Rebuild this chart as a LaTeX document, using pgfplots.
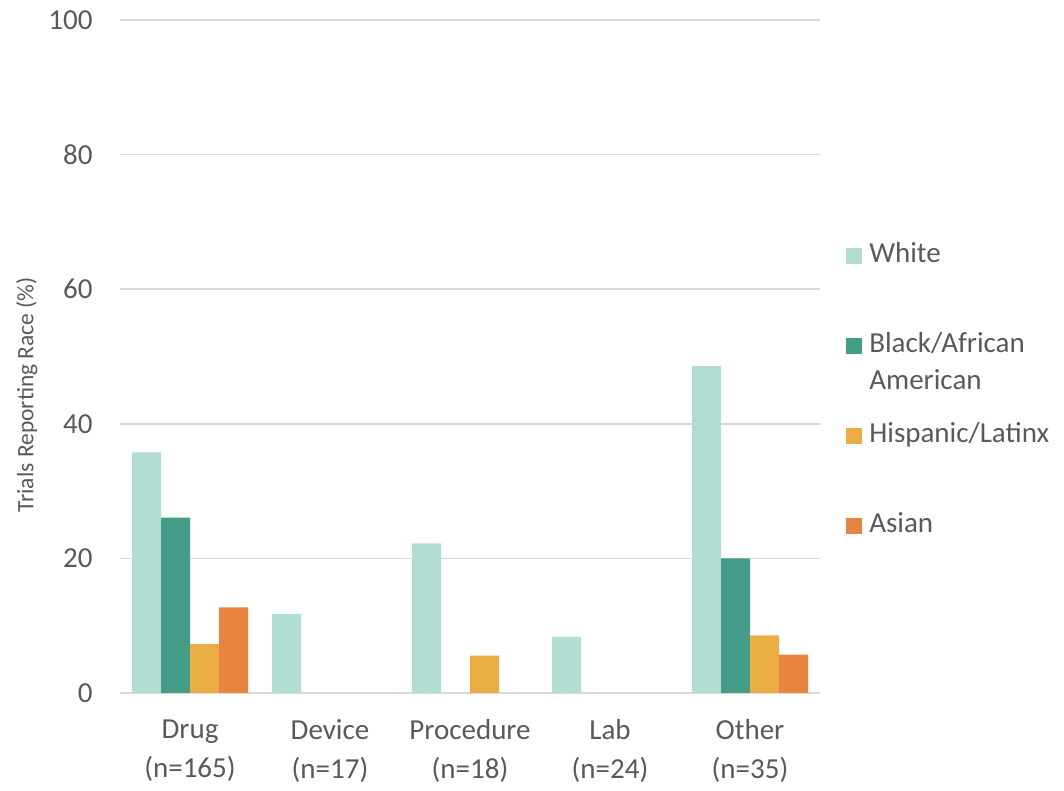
\documentclass[border=0pt]{standalone}
\usepackage{fontspec}
\setmainfont{Carlito}
\usepackage{pgfplots}
\pgfplotsset{compat=1.18}
\definecolor{cWhite}{HTML}{B1DDD3}
\definecolor{cBlack}{HTML}{449D87}
\definecolor{cHisp}{HTML}{E9AD43}
\definecolor{cAsian}{HTML}{E8843F}
\definecolor{txt}{HTML}{595959}
\definecolor{grd}{HTML}{D9D9D9}
\begin{document}
\begin{tikzpicture}[x=1pt,y=1pt]
\path[use as bounding box] (0,0) rectangle (1064,791);
\begin{axis}[
  at={(120pt,98pt)}, anchor=south west,
  scale only axis, width=700pt, height=673pt,
  ybar=0pt, bar width=29pt,
  xmin=-0.5, xmax=4.5, ymin=0, ymax=100,
  xtick={0,1,2,3,4},
  xticklabels={{Drug\\(n=165)},{Device\\(n=17)},{Procedure\\(n=18)},{Lab\\(n=24)},{Other\\(n=35)}},
  ytick={0,20,40,60,80,100},
  ymajorgrids, grid style={grd, line width=1.5pt},
  axis line style={draw=none},
  major tick length=0pt,
  /pgf/number format/assume math mode=true,
  tick label style={font=\fontsize{29}{38}\selectfont, text=txt},
  xticklabel style={align=center, yshift=-23pt, font=\fontsize{29}{39}\selectfont},
  yticklabel style={xshift=-24pt},
  ylabel={Trials Reporting Race (\%)},
  ylabel style={font=\fontsize{23.5}{26}\selectfont, text=txt, at={(axis description cs:-0.133,0.443)}, anchor=center},
  legend style={draw=none, fill=none, at={(axis description cs:1.033,0.672)}, anchor=north west,
    font=\fontsize{29}{37}\selectfont, text=txt,
    nodes={text height=20pt, text depth=6pt, inner sep=0pt, anchor=base west},
    /tikz/every odd column/.append style={column sep=7pt}},
  legend cell align=left,
  legend image code/.code={\fill[#1,draw=none] (0pt,-1pt) rectangle (16pt,15pt);},
  legend style={row sep=64pt},
]
\addplot[fill=cWhite, draw=none] coordinates {(0,35.76) (1,11.76) (2,22.22) (3,8.33) (4,48.57)};
\addplot[fill=cBlack, draw=none] coordinates {(0,26.06) (4,20.0)};
\addplot[fill=cHisp, draw=none] coordinates {(0,7.27) (2,5.56) (4,8.57)};
\addplot[fill=cAsian, draw=none] coordinates {(0,12.73) (4,5.71)};
\legend{White, {\smash{\vtop{\hbox{Black/African}\hbox{American}}}}, Hispanic/Latinx, Asian}
\end{axis}
\end{tikzpicture}
\end{document}
